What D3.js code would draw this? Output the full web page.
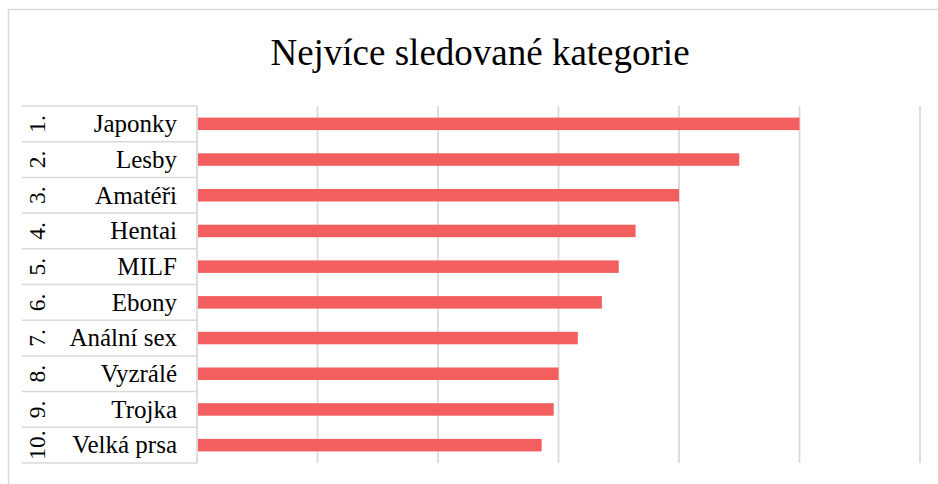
<!DOCTYPE html>
<html><head><meta charset="utf-8">
<script src="https://cdn.jsdelivr.net/npm/d3@7"></script>
<style>html,body{margin:0;padding:0;background:#fff;overflow:hidden}</style>
</head><body>
<svg id="c" width="938" height="484"></svg>
<script>
const title = "Nejvíce sledované kategorie";
const ranks = ["1.","2.","3.","4.","5.","6.","7.","8.","9.","10."];
const categories = ["Japonky","Lesby","Amatéři","Hentai","MILF","Ebony","Anální sex","Vyzrálé","Trojka","Velká prsa"];
const values = [25.0, 22.5, 20.0, 18.2, 17.5, 16.8, 15.8, 15.0, 14.8, 14.3];
const tickValues = [0,5,10,15,20,25,30];

const svg = d3.select("#c");
const grid = "#d9d9d9";
const font = "'Liberation Serif','Times New Roman',serif";

svg.append("rect").attr("x",8.5).attr("y",9.5).attr("width",2000).attr("height",2000)
  .attr("fill","#fff").attr("stroke",grid).attr("stroke-width",1.5);

const x = d3.scaleLinear().domain([0,30]).range([197,920]);
const y = d3.scaleBand().domain(categories).range([106,463]).paddingInner(0.65).paddingOuter(0.325);

svg.append("text").attr("x",480).attr("y",65).attr("text-anchor","middle")
  .attr("font-family",font).attr("font-size",37).attr("fill","#000").text(title);

// gridlines
svg.append("g").selectAll("line").data(tickValues.slice(1)).join("line")
  .attr("x1",d=>x(d)).attr("x2",d=>x(d)).attr("y1",106).attr("y2",463)
  .attr("stroke",grid).attr("stroke-width",1.75);

// category separators
const bounds = d3.range(categories.length+1).map(i=>106 + i*(357/categories.length));
svg.append("g").selectAll("line").data(bounds).join("line")
  .attr("x1",22).attr("x2",197).attr("y1",d=>d).attr("y2",d=>d)
  .attr("stroke",grid).attr("stroke-width",1.5);
svg.append("line").attr("x1",x(0)).attr("x2",x(0)).attr("y1",106).attr("y2",463)
  .attr("stroke",grid).attr("stroke-width",1.75);

// bars
svg.append("g").selectAll("rect").data(categories).join("rect")
  .attr("x",x(0)+1).attr("y",d=>y(d)).attr("height",y.bandwidth())
  .attr("width",(d,i)=>x(values[i])-x(0)-1)
  .attr("fill","#f35e5e");

// names
svg.append("g").selectAll("text").data(categories).join("text")
  .attr("x",177).attr("y",d=>y(d)+y.bandwidth()/2+8.3)
  .attr("text-anchor","end").attr("font-family",font).attr("font-size",25)
  .attr("fill","#000").text(d=>d);

// ranks
svg.append("g").selectAll("text").data(ranks).join("text")
  .attr("transform",(d,i)=>`translate(45,${y(categories[i])+y.bandwidth()/2}) rotate(-90)`)
  .attr("text-anchor","middle").attr("font-family",font).attr("font-size",23.5)
  .attr("fill","#000").text(d=>d);
</script>
</body></html>
